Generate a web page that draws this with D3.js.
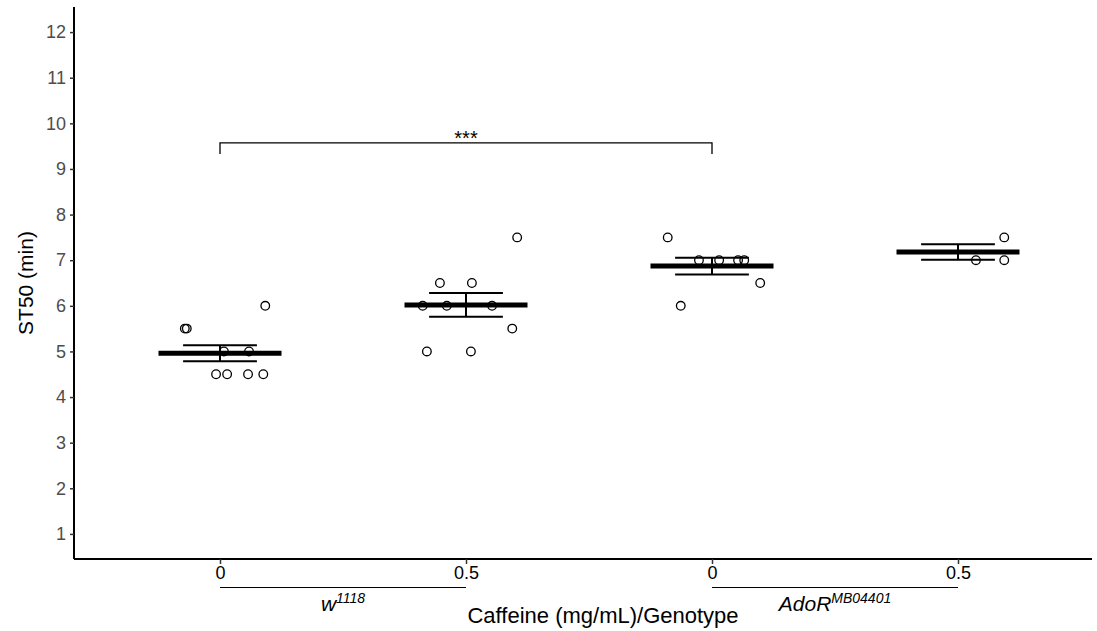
<!DOCTYPE html>
<html lang="en">
<head>
    <meta charset="UTF-8">
    <title>ST50</title>
    <script src="https://d3js.org/d3.v7.min.js"></script>
    <style>
      body{ margin:0; background:#fff; }
      svg{ font-family: "Liberation Sans", Arial, sans-serif; }
    </style>
</head>
<body>
    <script>
        // groups on the x axis
        const groups = ["w_0", "w_0.5", "A_0", "A_0.5"];
        const doseLabels = ["0", "0.5", "0", "0.5"];
        const genotypes = [
            {name: "w", sup: "1118", from: "w_0", to: "w_0.5"},
            {name: "AdoR", sup: "MB04401", from: "A_0", to: "A_0.5"}
        ];
        // raw ST50 values per group and their jitter (in category units)
        const values = [
            [5.5, 5.5, 6, 5, 5, 4.5, 4.5, 4.5, 4.5],
            [7.5, 6.5, 6.5, 6, 6, 6, 5.5, 5, 5],
            [7.5, 7, 7, 7, 7, 6.5, 6],
            [7.5, 7, 7]
        ];
        const jitter = [
            [-0.143, -0.135, 0.184, 0.016, 0.118, -0.016, 0.029, 0.114, 0.176],
            [0.208, -0.106, 0.024, -0.176, -0.078, 0.106, 0.188, -0.159, 0.02],
            [-0.18, -0.053, 0.029, 0.106, 0.131, 0.196, -0.127],
            [0.188, 0.073, 0.188]
        ];
        const means = [4.96, 6.02, 6.87, 7.18];
        const sems = [0.175, 0.26, 0.185, 0.17];
        const yTicks = [1, 2, 3, 4, 5, 6, 7, 8, 9, 10, 11, 12];
        const signif = {from: "w_0", to: "A_0", y: 9.57, tip: 9.33, label: "***"};

        const width = 1097, height = 631;
        const mLeft = 74, mRight = 1092, mTop = 7, mBottom = 559;

        const svg = d3.select("body").append("svg")
            .attr("width", width)
            .attr("height", height);

        const x = d3.scalePoint().domain(groups).range([220, 958]);
        const step = x.step();
        const y = d3.scaleLinear().domain([0.45, 12.55]).range([mBottom, mTop]);

        // y axis
        const yAxis = svg.append("g")
            .attr("transform", `translate(${mLeft},0)`)
            .call(d3.axisLeft(y).tickValues(yTicks).tickSize(4).tickPadding(4));
        yAxis.select(".domain").attr("stroke", "#000").attr("stroke-width", 2)
            .attr("d", `M0,${mTop}V${mBottom}`);
        yAxis.selectAll(".tick line").attr("stroke", "#333").attr("stroke-width", 1.5);
        yAxis.selectAll(".tick text").attr("fill", "#4d4d4d").attr("font-size", 18)
            .attr("font-family", "Liberation Sans, Arial, sans-serif");

        // x axis
        const xAxis = svg.append("g")
            .attr("transform", `translate(0,${mBottom})`)
            .call(d3.axisBottom(x).tickFormat((d, i) => doseLabels[i]).tickSize(5).tickPadding(2));
        xAxis.select(".domain").attr("stroke", "#000").attr("stroke-width", 2)
            .attr("d", `M${mLeft},0H${mRight}`);
        xAxis.selectAll(".tick line").attr("stroke", "#333").attr("stroke-width", 1.5);
        xAxis.selectAll(".tick text").attr("fill", "#000").attr("font-size", 18)
            .attr("font-family", "Liberation Sans Narrow, Arial Narrow, Liberation Sans, sans-serif");

        // genotype underlines and labels
        const gl = svg.append("g").selectAll("g").data(genotypes).join("g");
        gl.append("line")
            .attr("x1", d => x(d.from)).attr("x2", d => x(d.to))
            .attr("y1", 587.5).attr("y2", 587.5)
            .attr("stroke", "#000").attr("stroke-width", 1);
        const gt = gl.append("text")
            .attr("x", d => (x(d.from) + x(d.to)) / 2)
            .attr("y", 611)
            .attr("text-anchor", "middle")
            .attr("font-style", "italic")
            .attr("font-size", 21);
        gt.append("tspan").text(d => d.name);
        gt.append("tspan").attr("font-size", 14).attr("dy", -8).text(d => d.sup);

        // axis titles
        svg.append("text")
            .attr("x", 603).attr("y", 623)
            .attr("text-anchor", "middle")
            .attr("font-size", 22)
            .text("Caffeine (mg/mL)/Genotype");
        svg.append("text")
            .attr("transform", `translate(33,${(mTop + mBottom) / 2}) rotate(-90)`)
            .attr("text-anchor", "middle")
            .attr("font-size", 21)
            .text("ST50 (min)");

        // points
        const pts = [];
        values.forEach((vals, gi) => vals.forEach((v, j) => pts.push({g: groups[gi], v: v, j: jitter[gi][j]})));
        svg.append("g").selectAll("circle")
            .data(pts)
            .join("circle")
            .attr("cx", d => x(d.g) + d.j * step)
            .attr("cy", d => y(d.v))
            .attr("r", 4.3)
            .attr("fill", "none")
            .attr("stroke", "#000")
            .attr("stroke-width", 1.3);

        // mean and error bars
        const summ = groups.map((g, i) => ({g: g, m: means[i], se: sems[i]}));
        const sg = svg.append("g").selectAll("g").data(summ).join("g");
        const capW = 0.15 * step, meanW = 0.25 * step;
        sg.append("line")
            .attr("x1", d => x(d.g) - meanW).attr("x2", d => x(d.g) + meanW)
            .attr("y1", d => y(d.m)).attr("y2", d => y(d.m))
            .attr("stroke", "#000").attr("stroke-width", 5);
        sg.append("path")
            .attr("d", d => `M${x(d.g) - capW},${y(d.m + d.se)}H${x(d.g) + capW}` +
                `M${x(d.g)},${y(d.m + d.se)}V${y(d.m - d.se)}` +
                `M${x(d.g) - capW},${y(d.m - d.se)}H${x(d.g) + capW}`)
            .attr("fill", "none")
            .attr("stroke", "#000").attr("stroke-width", 2);

        // significance bracket
        svg.append("path")
            .attr("d", `M${x(signif.from)},${y(signif.tip)}V${y(signif.y)}H${x(signif.to)}V${y(signif.tip)}`)
            .attr("fill", "none").attr("stroke", "#000").attr("stroke-width", 1.3);
        svg.append("text")
            .attr("x", (x(signif.from) + x(signif.to)) / 2)
            .attr("y", y(signif.y) + 2)
            .attr("text-anchor", "middle")
            .attr("font-size", 20)
            .text(signif.label);
    </script>
</body>
</html>
